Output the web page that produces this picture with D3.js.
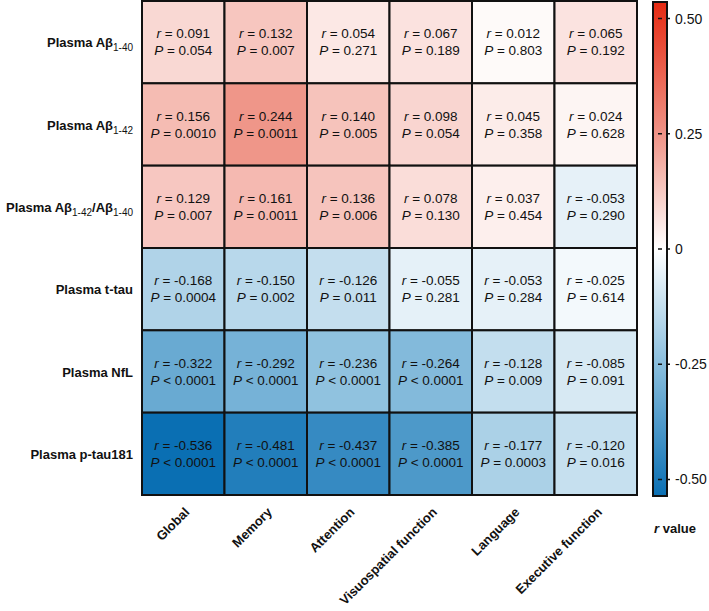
<!DOCTYPE html>
<html>
<head>
<meta charset="utf-8">
<script src="https://cdn.jsdelivr.net/npm/d3@7"></script>
<style>
  html, body { margin: 0; padding: 0; background: #fff; }
  svg { display: block; font-family: "Liberation Sans", Arial, sans-serif; }
</style>
</head>
<body>
<svg id="chart" width="709" height="611"></svg>
<script>
// ---- data ----
const rowLabels = [
  [["Plasma Aβ", ""], ["1-40", "sub"]],
  [["Plasma Aβ", ""], ["1-42", "sub"]],
  [["Plasma Aβ", ""], ["1-42", "sub"], ["/Aβ", ""], ["1-40", "sub"]],
  [["Plasma t-tau", ""]],
  [["Plasma NfL", ""]],
  [["Plasma p-tau181", ""]]
];
const rowIds = ["ab40", "ab42", "ratio", "ttau", "nfl", "ptau"];
const columns = ["Global", "Memory", "Attention", "Visuospatial function", "Language", "Executive function"];
const rValues = [
  [0.091, 0.132, 0.054, 0.067, 0.012, 0.065],
  [0.156, 0.244, 0.140, 0.098, 0.045, 0.024],
  [0.129, 0.161, 0.136, 0.078, 0.037, -0.053],
  [-0.168, -0.150, -0.126, -0.055, -0.053, -0.025],
  [-0.322, -0.292, -0.236, -0.264, -0.128, -0.085],
  [-0.536, -0.481, -0.437, -0.385, -0.177, -0.120]
];
const pValues = [
  ["= 0.054", "= 0.007", "= 0.271", "= 0.189", "= 0.803", "= 0.192"],
  ["= 0.0010", "= 0.0011", "= 0.005", "= 0.054", "= 0.358", "= 0.628"],
  ["= 0.007", "= 0.0011", "= 0.006", "= 0.130", "= 0.454", "= 0.290"],
  ["= 0.0004", "= 0.002", "= 0.011", "= 0.281", "= 0.284", "= 0.614"],
  ["< 0.0001", "< 0.0001", "< 0.0001", "< 0.0001", "= 0.009", "= 0.091"],
  ["< 0.0001", "< 0.0001", "< 0.0001", "< 0.0001", "= 0.0003", "= 0.016"]
];
const colorStops = [-0.536, -0.25, 0, 0.25, 0.536];
const colorRange = ["#0a6fb3", "#89bedd", "#ffffff", "#ef9386", "#e52a12"];
const tickValues = [0.5, 0.25, 0, -0.25, -0.5];
const tickLabels = ["0.50", "0.25", "0", "-0.25", "-0.50"];

// ---- chart ----
const svg = d3.select("#chart");
const x = d3.scaleBand().domain(columns).range([142, 637]).padding(0);
const y = d3.scaleBand().domain(rowIds).range([1, 495]).padding(0);
const color = d3.scaleLinear().domain(colorStops).range(colorRange).clamp(true);

const cells = [];
rowIds.forEach((rid, i) => columns.forEach((c, j) => cells.push({row: rid, col: c, r: rValues[i][j], p: pValues[i][j]})));

const g = svg.append("g");
g.selectAll("rect.cell").data(cells).join("rect")
  .attr("class", "cell")
  .attr("x", d => x(d.col))
  .attr("y", d => y(d.row))
  .attr("width", x.bandwidth())
  .attr("height", y.bandwidth())
  .attr("fill", d => color(d.r))
  .attr("stroke", "#111")
  .attr("stroke-width", 2);

const fmt = v => (v < 0 ? "-" : "") + Math.abs(v).toFixed(3);
const txt = g.selectAll("g.lbl").data(cells).join("g")
  .attr("transform", d => `translate(${x(d.col) + x.bandwidth() / 2},${y(d.row) + y.bandwidth() / 2})`);
const t1 = txt.append("text").attr("y", -4).attr("text-anchor", "middle")
  .attr("font-size", 13.5).attr("fill", "#111");
t1.append("tspan").attr("font-style", "italic").text("r");
t1.append("tspan").text(d => " = " + fmt(d.r));
const t2 = txt.append("text").attr("y", 13).attr("text-anchor", "middle")
  .attr("font-size", 13.5).attr("fill", "#111");
t2.append("tspan").attr("font-style", "italic").text("P");
t2.append("tspan").text(d => " " + d.p);

// row labels
const rl = svg.append("g").selectAll("text").data(rowIds).join("text")
  .attr("x", 133)
  .attr("y", d => y(d) + y.bandwidth() / 2 + 5)
  .attr("text-anchor", "end")
  .attr("font-size", 13)
  .attr("font-weight", "bold")
  .attr("fill", "#111");
rl.each(function(d, i) {
  const el = d3.select(this);
  let shifted = false;
  rowLabels[i].forEach(([s, kind]) => {
    const ts = el.append("tspan").text(s);
    if (kind === "sub") {
      ts.attr("font-size", 10).attr("font-weight", "normal").attr("dy", shifted ? 0 : 4);
      shifted = true;
    } else if (shifted) {
      ts.attr("dy", -4);
      shifted = false;
    }
  });
});

// column labels
svg.append("g").selectAll("text").data(columns).join("text")
  .attr("transform", d => `translate(${x(d) + x.bandwidth() / 2 + 7},${513}) rotate(-45)`)
  .attr("text-anchor", "end")
  .attr("font-size", 13)
  .attr("font-weight", "bold")
  .attr("fill", "#111")
  .text(d => d);

// colorbar
const cbX = 653, cbW = 14;
const cy = d3.scaleLinear().domain([-0.536, 0.536]).range([496, 2]);
const defs = svg.append("defs");
const grad = defs.append("linearGradient").attr("id", "cbgrad")
  .attr("x1", 0).attr("y1", 1).attr("x2", 0).attr("y2", 0);
d3.range(0, 1.0001, 0.05).forEach(t => {
  const v = -0.536 + t * 1.072;
  grad.append("stop").attr("offset", t).attr("stop-color", color(v));
});
svg.append("rect").attr("x", cbX).attr("y", cy(0.536)).attr("width", cbW)
  .attr("height", cy(-0.536) - cy(0.536))
  .attr("fill", "url(#cbgrad)").attr("stroke", "#111").attr("stroke-width", 2);
svg.append("g").selectAll("line").data(tickValues).join("line")
  .attr("x1", cbX + cbW - 9).attr("x2", cbX + cbW + 4)
  .attr("y1", d => cy(d)).attr("y2", d => cy(d))
  .attr("stroke", "#111").attr("stroke-width", 1.5).attr("stroke-dasharray", "4,4");
svg.append("g").selectAll("text").data(tickValues).join("text")
  .attr("x", 675).attr("y", d => cy(d) + 5)
  .attr("font-size", 14).attr("fill", "#111")
  .text((d, i) => tickLabels[i]);

const rv = svg.append("text").attr("x", 675).attr("y", 533).attr("text-anchor", "middle")
  .attr("font-size", 13).attr("font-weight", "bold").attr("fill", "#111");
rv.append("tspan").attr("font-style", "italic").text("r");
rv.append("tspan").text(" value");
</script>
</body>
</html>
